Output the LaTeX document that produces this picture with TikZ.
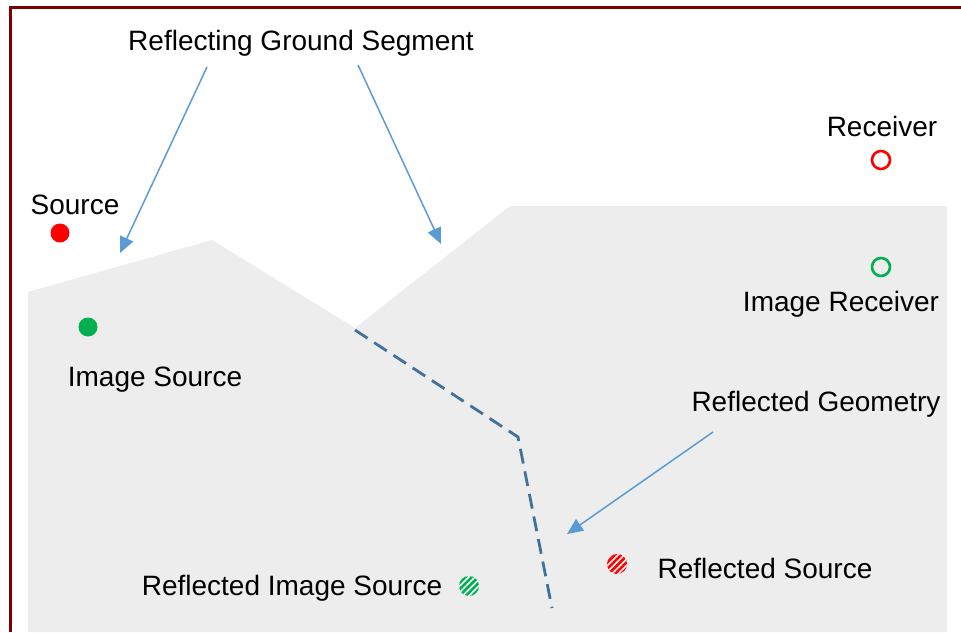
\documentclass[tikz,border=0pt]{standalone}
\usepackage{fontspec}
\setmainfont{Liberation Sans}
\usetikzlibrary{arrows.meta,patterns.meta}
\definecolor{framered}{HTML}{800000}
\definecolor{groundgray}{HTML}{EDEDED}
\definecolor{arrowblue}{HTML}{5B9BD5}
\definecolor{dashblue}{HTML}{41719C}
\definecolor{srcred}{HTML}{FF0000}
\definecolor{imggreen}{HTML}{00B050}
\tikzset{
  lbl/.style={font=\fontsize{28}{32}\selectfont, inner sep=0pt, yshift=-2.5pt},
  pointer/.style={draw=arrowblue, line width=1.5pt, -{Triangle[length=16pt,width=14pt]}},
  solid dot/.style={circle, minimum size=19pt, inner sep=0pt},
  open dot/.style={circle, draw, line width=2.6pt, minimum size=18pt, inner sep=0pt},
  hatch dot/.style={circle, minimum size=20pt, inner sep=0pt,
    preaction={fill=#1}, pattern={Lines[angle=45,distance=4.5pt,line width=1.6pt]}, pattern color=white}
}
\begin{document}
\begin{tikzpicture}[x=1pt,y=-1pt]
  \useasboundingbox (0,0) rectangle (961,632);
  % frame
  \draw[framered, line width=3pt] (10,632) -- (10,7) -- (961,7);
  % ground below the terrain line
  \fill[groundgray] (28,292) -- (212,240) -- (355,328) -- (510,206) -- (947,206)
    -- (947,632) -- (28,632) -- cycle;
  % reflected geometry
  \coordinate (g1) at (355,330);
  \coordinate (g2) at (518,437);
  \coordinate (g3) at (552,608);
  \draw[dashblue, line width=2.8pt, dash pattern=on 15pt off 8pt] (g1) -- (g2) -- (g3);
  % points
  \node[solid dot, fill=srcred] (src) at (60,233) {};
  \node[solid dot, fill=imggreen] (isrc) at (88,327) {};
  \node[open dot, draw=srcred] (rcv) at (881,160) {};
  \node[open dot, draw=imggreen] (ircv) at (881,267) {};
  \node[hatch dot=srcred] (rsrc) at (617,564) {};
  \node[hatch dot=imggreen] (risrc) at (469,586) {};
  % labels
  \node[lbl] (seg) at (301,41) {Reflecting Ground Segment};
  \node[lbl] (rcvl) at (882,124) {Receiver};
  \node[lbl] (srcl) at (75,202) {Source};
  \node[lbl] (isrcl) at (155,377) {Image Source};
  \node[lbl] (ircvl) at (841,302) {Image Receiver};
  \node[lbl] (geo) at (816,402) {Reflected Geometry};
  \node[lbl] (rsrcl) at (765,566) {Reflected Source};
  \node[lbl] (risrcl) at (292,586) {Reflected Image Source};
  % pointers
  \coordinate (p1) at (207,67);
  \coordinate (q1) at (120,253);
  \coordinate (p2) at (358,65);
  \coordinate (q2) at (441,244);
  \coordinate (p3) at (713,432);
  \coordinate (q3) at (567,534);
  \draw[pointer] (p1) -- (q1);
  \draw[pointer] (p2) -- (q2);
  \draw[pointer] (p3) -- (q3);
\end{tikzpicture}
\end{document}
